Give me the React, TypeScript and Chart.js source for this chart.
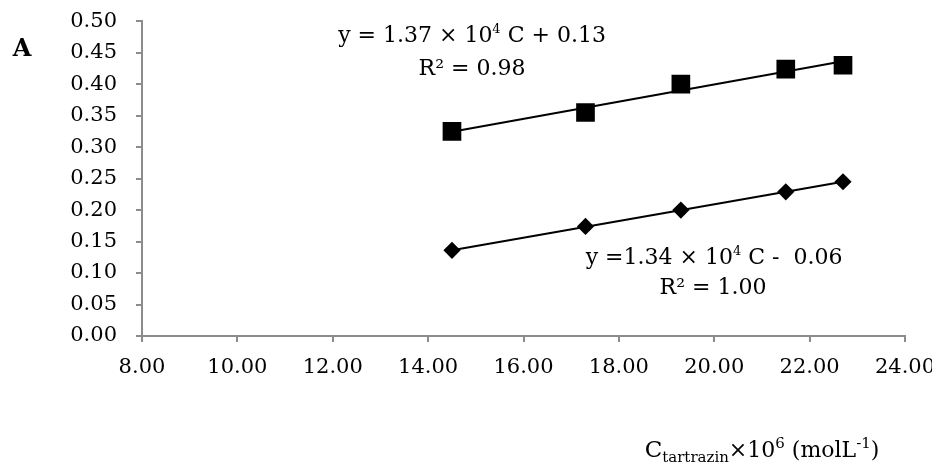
import React, { useEffect, useRef } from "react";
import { Chart, registerables } from "chart.js";

Chart.register(...registerables);

const concentrations = [14.5, 17.3, 19.3, 21.5, 22.7];
const absorbanceSquares = [0.325, 0.355, 0.4, 0.424, 0.43];
const absorbanceDiamonds = [0.136, 0.174, 0.2, 0.229, 0.245];
const xTickRange = [8, 24, 2];
const yTickRange = [0, 0.5, 0.05];
const eqTop = ["y = 1.37 × 10", "4", " C + 0.13"];
const r2Top = "R² = 0.98";
const eqBottom = ["y =1.34 × 10", "4", " C -  0.06"];
const r2Bottom = "R² = 1.00";
const panelLabel = "A";

const FONT = "'DejaVu Serif', serif";
const AXIS_COLOR = "#8c8c8c";

function fit(xs: number[], ys: number[]) {
  const n = xs.length;
  const mx = xs.reduce((a, b) => a + b, 0) / n;
  const my = ys.reduce((a, b) => a + b, 0) / n;
  let sxy = 0, sxx = 0;
  for (let i = 0; i < n; i++) {
    sxy += (xs[i] - mx) * (ys[i] - my);
    sxx += (xs[i] - mx) * (xs[i] - mx);
  }
  const slope = sxy / sxx;
  const icpt = my - slope * mx;
  const x0 = Math.min(...xs), x1 = Math.max(...xs);
  return [
    { x: x0, y: slope * x0 + icpt },
    { x: x1, y: slope * x1 + icpt },
  ];
}

type Seg = { t: string; size: number; dy: number; bold?: boolean };

function drawRich(ctx: CanvasRenderingContext2D, segs: Seg[], cx: number, baseline: number) {
  let total = 0;
  const widths = segs.map((s) => {
    ctx.font = `${s.bold ? "bold " : ""}${s.size}px ${FONT}`;
    const w = ctx.measureText(s.t).width;
    total += w;
    return w;
  });
  let x = cx - total / 2;
  ctx.textAlign = "left";
  ctx.textBaseline = "alphabetic";
  segs.forEach((s, i) => {
    ctx.font = `${s.bold ? "bold " : ""}${s.size}px ${FONT}`;
    ctx.fillText(s.t, x, baseline + s.dy);
    x += widths[i];
  });
}

const textPlugin = {
  id: "richText",
  afterDraw(chart: any) {
    const ctx = chart.ctx as CanvasRenderingContext2D;
    ctx.save();
    ctx.fillStyle = "#000";
    const big = 22, small = 13;
    drawRich(ctx, [
      { t: eqTop[0], size: big, dy: 0 },
      { t: eqTop[1], size: small, dy: -9 },
      { t: eqTop[2], size: big, dy: 0 },
    ], 464, 34);
    drawRich(ctx, [{ t: r2Top, size: big, dy: 0 }], 464, 67);
    drawRich(ctx, [
      { t: eqBottom[0], size: big, dy: 0 },
      { t: eqBottom[1], size: small, dy: -9 },
      { t: eqBottom[2], size: big, dy: 0 },
    ], 706, 256);
    drawRich(ctx, [{ t: r2Bottom, size: big, dy: 0 }], 705, 286);
    drawRich(ctx, [{ t: panelLabel, size: 24, dy: 0, bold: true }], 14, 48);
    drawRich(ctx, [
      { t: "C", size: 23, dy: 0 },
      { t: "tartrazin", size: 15, dy: 5 },
      { t: "×10", size: big, dy: 0 },
      { t: "6", size: 15, dy: -9 },
      { t: " (molL", size: big, dy: 0 },
      { t: "-1", size: 15, dy: -9 },
      { t: ")", size: big, dy: 0 },
    ], 754, 449);
    ctx.restore();
  },
};

export default function App() {
  const ref = useRef<HTMLCanvasElement | null>(null);
  useEffect(() => {
    if (!ref.current) return;
    const chart = new Chart(ref.current, {
      type: "scatter",
      data: {
        datasets: [
          {
            type: "line",
            data: fit(concentrations, absorbanceSquares),
            borderColor: "#000",
            borderWidth: 2,
            pointRadius: 0,
            fill: false,
          } as any,
          {
            type: "line",
            data: fit(concentrations, absorbanceDiamonds),
            borderColor: "#000",
            borderWidth: 2,
            pointRadius: 0,
            fill: false,
          } as any,
          {
            data: concentrations.map((x, i) => ({ x, y: absorbanceSquares[i] })),
            pointStyle: "rect",
            pointRadius: 13.2,
            backgroundColor: "#000",
            borderColor: "#000",
            borderWidth: 0,
          },
          {
            data: concentrations.map((x, i) => ({ x, y: absorbanceDiamonds[i] })),
            pointStyle: "rectRot",
            pointRadius: 8.6,
            backgroundColor: "#000",
            borderColor: "#000",
            borderWidth: 0,
          },
        ],
      },
      options: {
        responsive: false,
        animation: false,
        events: [],
        layout: { padding: { left: 0, right: 27, top: 11.3, bottom: 0 } },
        plugins: { legend: { display: false }, tooltip: { enabled: false } },
        scales: {
          x: {
            type: "linear",
            min: xTickRange[0],
            max: xTickRange[1],
            ticks: {
              stepSize: xTickRange[2],
              color: "#000",
              padding: 13,
              font: { family: FONT, size: 21 },
              callback: (v: any) => Number(v).toFixed(2),
              maxRotation: 0,
              autoSkip: false,
            },
            grid: { drawOnChartArea: false, drawTicks: true, tickLength: 6, color: AXIS_COLOR, lineWidth: 2 },
            border: { color: AXIS_COLOR, width: 2 },
            afterFit: (s: any) => {
              s.height = 130;
              s.paddingLeft = 0;
              s.paddingRight = 0;
            },
          },
          y: {
            min: yTickRange[0],
            max: yTickRange[1],
            ticks: {
              stepSize: yTickRange[2],
              color: "#000",
              padding: 19,
              font: { family: FONT, size: 21 },
              callback: (v: any) => Number(v).toFixed(2),
              autoSkip: false,
            },
            grid: { drawOnChartArea: false, drawTicks: true, tickLength: 6, color: AXIS_COLOR, lineWidth: 2 },
            border: { color: AXIS_COLOR, width: 2 },
            afterFit: (s: any) => {
              s.width = 134;
              s.paddingTop = 0;
              s.paddingBottom = 0;
            },
          },
        },
      },
      plugins: [textPlugin],
    });
    return () => chart.destroy();
  }, []);
  return <canvas ref={ref} width={924} height={458} style={{ display: "block" }} />;
}
